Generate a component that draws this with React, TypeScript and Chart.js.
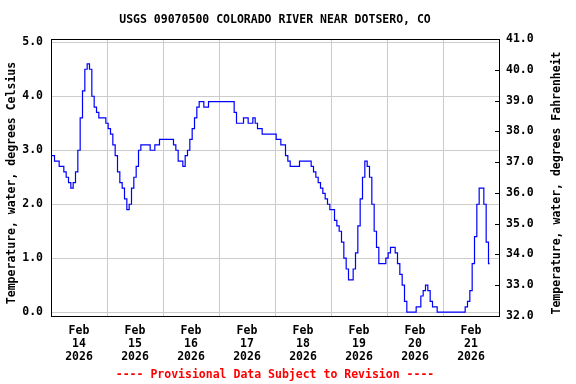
import React, { useEffect, useRef } from "react";
import { Chart, registerables } from "chart.js";

Chart.register(...registerables);

const TITLE = "USGS 09070500 COLORADO RIVER NEAR DOTSERO, CO";
const FOOTER = "---- Provisional Data Subject to Revision ----";
const Y_LEFT_TITLE = "Temperature, water, degrees Celsius";
const Y_RIGHT_TITLE = "Temperature, water, degrees Fahrenheit";

// Day labels shown at noon of each day (multi-line)
const DAY_LABELS: string[][] = [
  ["Feb", "14", "2026"],
  ["Feb", "15", "2026"],
  ["Feb", "16", "2026"],
  ["Feb", "17", "2026"],
  ["Feb", "18", "2026"],
  ["Feb", "19", "2026"],
  ["Feb", "20", "2026"],
  ["Feb", "21", "2026"],
];

// Hourly water temperature (deg C) starting Feb 14 2026 00:00
const TEMP_C: number[] = [
  2.9, 2.9, 2.8, 2.8, 2.7, 2.7, 2.6, 2.5, 2.4, 2.3,
  2.4, 2.6, 3.0, 3.6, 4.1, 4.5, 4.6, 4.5, 4.0, 3.8,
  3.7, 3.6, 3.6, 3.6, 3.5, 3.4, 3.3, 3.1, 2.9, 2.6,
  2.4, 2.3, 2.1, 1.9, 2.0, 2.3, 2.5, 2.7, 3.0, 3.1,
  3.1, 3.1, 3.1, 3.0, 3.0, 3.1, 3.1, 3.2, 3.2, 3.2,
  3.2, 3.2, 3.2, 3.1, 3.0, 2.8, 2.8, 2.7, 2.9, 3.0,
  3.2, 3.4, 3.6, 3.8, 3.9, 3.9, 3.8, 3.8, 3.9, 3.9,
  3.9, 3.9, 3.9, 3.9, 3.9, 3.9, 3.9, 3.9, 3.9, 3.7,
  3.5, 3.5, 3.5, 3.6, 3.6, 3.5, 3.5, 3.6, 3.5, 3.4,
  3.4, 3.3, 3.3, 3.3, 3.3, 3.3, 3.3, 3.2, 3.2, 3.1,
  3.1, 2.9, 2.8, 2.7, 2.7, 2.7, 2.7, 2.8, 2.8, 2.8,
  2.8, 2.8, 2.7, 2.6, 2.5, 2.4, 2.3, 2.2, 2.1, 2.0,
  1.9, 1.9, 1.7, 1.6, 1.5, 1.3, 1.0, 0.8, 0.6, 0.6,
  0.8, 1.1, 1.6, 2.1, 2.5, 2.8, 2.7, 2.5, 2.0, 1.5,
  1.2, 0.9, 0.9, 0.9, 1.0, 1.1, 1.2, 1.2, 1.1, 0.9,
  0.7, 0.5, 0.2, 0.0, 0.0, 0.0, 0.0, 0.1, 0.1, 0.3,
  0.4, 0.5, 0.4, 0.2, 0.1, 0.1, 0.0, 0.0, 0.0, 0.0,
  0.0, 0.0, 0.0, 0.0, 0.0, 0.0, 0.0, 0.0, 0.1, 0.2,
  0.4, 0.9, 1.4, 2.0, 2.3, 2.3, 2.0, 1.3, 0.9,
];

const C_MIN = -0.07;
const C_MAX = 5.06;
const F_MIN = 32;
const F_MAX = 41;
const X_MAX_HOURS = 192;

const FONT_FAMILY = "'DejaVu Sans Mono', 'Liberation Mono', monospace";
const FONT_SIZE = 11.5;

const framePlugin = {
  id: "framePlugin",
  afterDraw(chart: any) {
    const { ctx, chartArea } = chart;
    const { left, right, top } = chartArea;
    ctx.save();
    // top frame line
    ctx.strokeStyle = "#000";
    ctx.lineWidth = 1;
    ctx.beginPath();
    ctx.moveTo(left, top + 0.5);
    ctx.lineTo(right + 1, top + 0.5);
    ctx.stroke();
    // inward ticks on right axis
    const y1 = chart.scales.y1;
    y1.ticks.forEach((t: any) => {
      const py = Math.round(y1.getPixelForValue(t.value)) + 0.5;
      ctx.beginPath();
      ctx.moveTo(right - 4, py);
      ctx.lineTo(right, py);
      ctx.stroke();
    });
    // texts
    ctx.font = `bold ${FONT_SIZE}px ${FONT_FAMILY}`;
    ctx.textAlign = "center";
    ctx.textBaseline = "middle";
    ctx.fillStyle = "#000";
    const cx = (left + right) / 2;
    ctx.fillText(TITLE, cx, 20.5);
    ctx.fillStyle = "#ff0000";
    ctx.fillText(FOOTER, cx, 375);
    ctx.fillStyle = "#000";
    const cy = 183;
    ctx.save();
    ctx.translate(12, cy);
    ctx.rotate(-Math.PI / 2);
    ctx.fillText(Y_LEFT_TITLE, 0, 0);
    ctx.restore();
    ctx.save();
    ctx.translate(557, cy);
    ctx.rotate(-Math.PI / 2);
    ctx.fillText(Y_RIGHT_TITLE, 0, 0);
    ctx.restore();
    ctx.restore();
  },
};

export default function App() {
  const canvasRef = useRef<HTMLCanvasElement | null>(null);

  useEffect(() => {
    const canvas = canvasRef.current;
    if (!canvas) return;
    const points = TEMP_C.map((v, i) => ({ x: i, y: v }));
    const tickFont = { family: FONT_FAMILY, size: FONT_SIZE, weight: "bold" as const, lineHeight: 1.15 };
    const chart = new Chart(canvas, {
      type: "line",
      data: {
        datasets: [
          {
            data: points,
            borderColor: "#0000ff",
            borderWidth: 1.2,
            pointRadius: 0,
            tension: 0,
            stepped: "middle",
            fill: false,
            yAxisID: "y",
          },
        ],
      },
      options: {
        animation: false,
        responsive: false,
        devicePixelRatio: 1,
        layout: { padding: { top: 39, left: 0, right: 0, bottom: 0 } },
        plugins: {
          legend: { display: false },
          title: { display: false },
          tooltip: { enabled: false },
        },
        scales: {
          x: {
            type: "linear",
            min: 0,
            max: X_MAX_HOURS,
            afterFit(scale: any) {
              scale.height = 68;
            },
            ticks: {
              stepSize: 12,
              includeBounds: false,
              autoSkip: false,
              maxRotation: 0,
              minRotation: 0,
              padding: 8,
              color: "#000",
              font: tickFont,
              callback: (value: any) => {
                const v = Number(value);
                if (v % 24 === 12) {
                  const idx = (v - 12) / 24;
                  return DAY_LABELS[idx] || "";
                }
                return "";
              },
            },
            grid: {
              drawTicks: false,
              color: (ctx: any) =>
                ctx.tick && ctx.tick.value % 24 === 0 ? "#cccccc" : "rgba(0,0,0,0)",
              lineWidth: 1,
            },
            border: { display: true, color: "#000", width: 1 },
          },
          y: {
            type: "linear",
            position: "left",
            min: C_MIN,
            max: C_MAX,
            afterFit(scale: any) {
              scale.width = 51;
            },
            ticks: {
              stepSize: 1,
              includeBounds: false,
              padding: 8,
              color: "#000",
              font: tickFont,
              callback: (value: any) => Number(value).toFixed(1),
            },
            grid: { drawTicks: false, color: "#cccccc", lineWidth: 1 },
            border: { display: true, color: "#000", width: 1 },
          },
          y1: {
            type: "linear",
            position: "right",
            min: F_MIN,
            max: F_MAX,
            afterFit(scale: any) {
              scale.width = 77;
            },
            ticks: {
              stepSize: 1,
              includeBounds: false,
              padding: 7,
              color: "#000",
              font: tickFont,
              callback: (value: any) => Number(value).toFixed(1),
            },
            grid: { drawTicks: false, drawOnChartArea: false },
            border: { display: true, color: "#000", width: 1 },
          },
        },
      },
      plugins: [framePlugin],
    } as any);
    return () => {
      chart.destroy();
    };
  }, []);

  return (
    <div style={{ position: "absolute", left: 0, top: 0, width: 576, height: 384, background: "#fff" }}>
      <canvas ref={canvasRef} width={576} height={384} style={{ display: "block" }} />
    </div>
  );
}
